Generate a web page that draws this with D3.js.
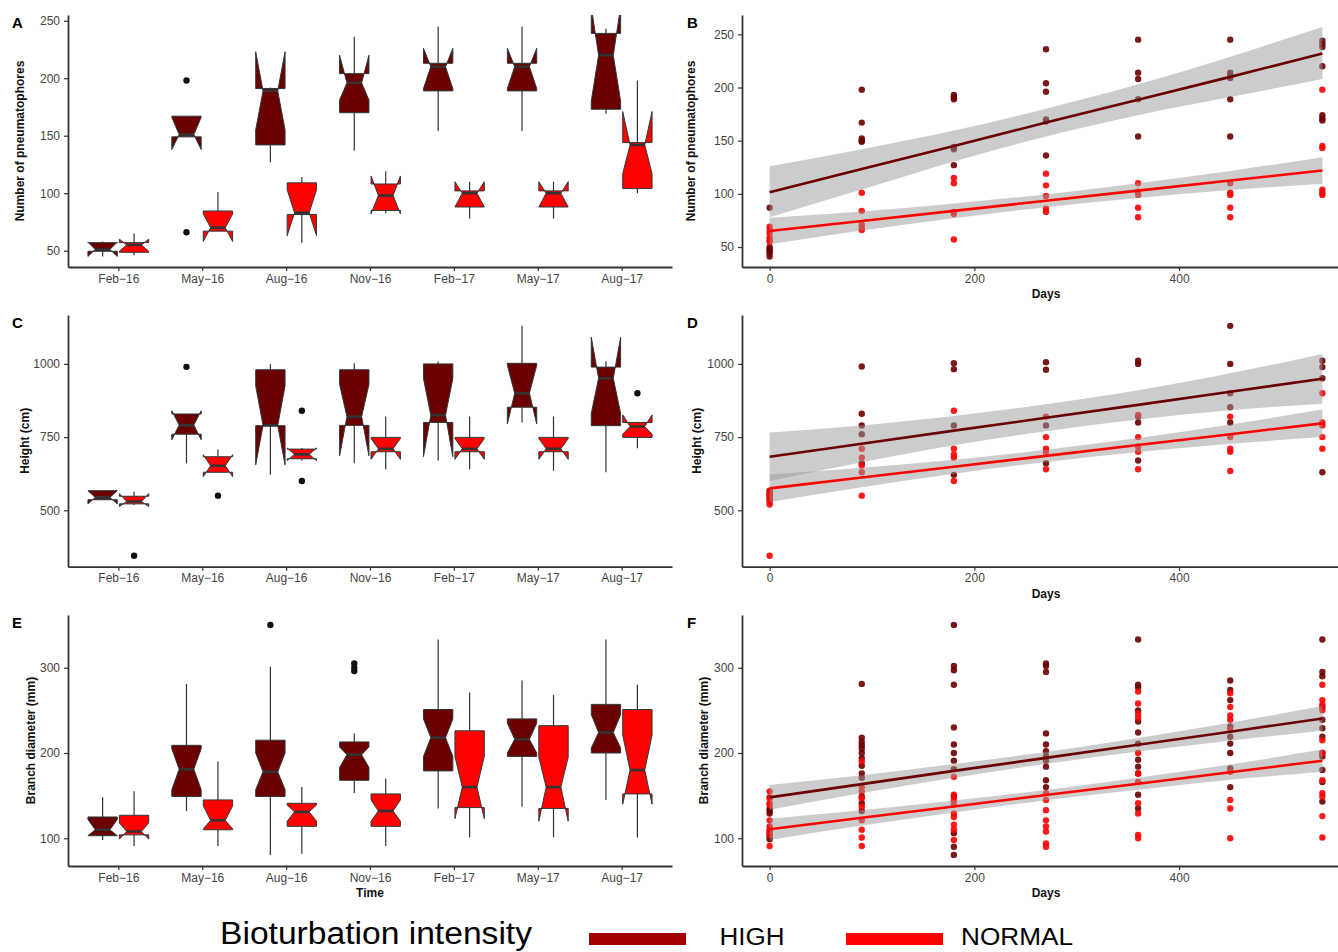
<!DOCTYPE html>
<html>
<head>
<meta charset="utf-8">
<script src="https://cdn.jsdelivr.net/npm/d3@7"></script>
<style>
  body { margin: 0; background: #fff; }
  svg { display: block; }
  text { font-family: "Liberation Sans", Arial, Helvetica, sans-serif; }
</style>
</head>
<body>
<svg id="fig" width="1338" height="952"></svg>
<script>
const months = ['Feb-16', 'May-16', 'Aug-16', 'Nov-16', 'Feb-17', 'May-17', 'Aug-17'];
const days = [0, 90, 180, 270, 360, 450, 540];
const groups = ['HIGH', 'NORMAL'];

// box stats per month: [lower whisker, q1, notch low, median, notch high, q3, upper whisker]
const pneuBoxHigh = [
  [45, 49.5, 45, 51, 57.5, 57, 58], [149, 149, 138, 151, 166, 167, 167],
  [127, 142, 155, 189, 223, 191, 192], [137, 170, 181, 196, 220, 204, 236],
  [154, 189, 191, 210, 226, 213, 245], [154, 189, 191, 210, 226, 213, 245],
  [169, 173, 180, 220, 262, 239, 243]
];
const pneuBoxNormal = [
  [46, 48.6, 49.5, 55, 60, 57, 65], [67, 67, 58, 70, 82, 84.5, 101],
  [57, 81.5, 63, 83, 103, 109, 114], [82.5, 85, 82, 98, 115, 108, 119],
  [78, 88, 88, 100, 110, 102, 110], [78, 88, 88, 100, 110, 102, 110],
  [100, 104, 117, 142, 171, 144, 198]
];
const pneuOutliers = [[1, 0, 198], [1, 0, 66]];

const heightBoxHigh = [
  [536, 536, 522, 544, 567, 567, 567], [661, 760, 741, 791, 840, 829, 829],
  [621, 789, 655, 790, 925, 980, 999], [661, 790, 686, 820, 930, 980, 1002],
  [670, 800, 683, 825, 950, 1000, 1008], [800, 852, 795, 900, 995, 1002, 1130],
  [630, 789, 831, 951, 1091, 989, 1008]
];
const heightBoxNormal = [
  [518, 522, 513, 530, 557, 548, 564], [630, 630, 615, 652, 690, 683, 708],
  [670, 676, 670, 691, 713, 709, 713], [640, 700, 674, 710, 745, 749, 820],
  [640, 700, 674, 710, 745, 749, 820], [635, 700, 674, 710, 745, 749, 820],
  [712, 749, 760, 786, 826, 800, 800]
];
const heightOutliers = [[0, 1, 345], [1, 0, 990], [1, 1, 550], [2, 1, 840], [2, 1, 600], [6, 1, 900]];

const branchBoxHigh = [
  [98, 103, 103, 110, 122, 125, 148], [132, 149, 157, 181, 205, 209, 281],
  [80.5, 149, 157, 178, 200, 215, 301], [153, 168, 183, 198, 207, 213, 223],
  [135, 179, 196, 218, 240, 251, 333], [137, 196, 200, 216, 235, 240, 285],
  [145, 200, 206, 224, 245, 257, 333]
];
const branchBoxNormal = [
  [91, 104, 99, 108, 118, 127, 155], [91, 110, 111, 121, 138, 145, 190],
  [82, 114, 120, 131, 139, 141, 160], [91, 114, 120, 132, 145, 152, 170],
  [101, 136, 123, 160, 196, 226, 271], [101, 135, 120, 160, 195, 232, 268],
  [101, 152, 140, 180, 221, 251, 280]
];
const branchOutliers = [[2, 0, 350], [3, 0, 305], [3, 0, 300], [3, 0, 296]];

// scatter values per sampling day
const pneuPtsHigh = [
  [87, 50, 48, 46, 44, 41], [198, 167, 152, 150, 149], [193, 191, 189, 144, 142, 127],
  [236, 204, 196, 170, 168, 136], [245, 214, 208, 189, 154], [245, 214, 211, 209, 189, 154],
  [244, 241, 238, 220, 174, 171, 169]
];
const pneuPtsNormal = [
  [69, 66, 63, 59, 57, 55], [101, 84, 71, 68, 66], [115, 110, 83, 81, 57],
  [119, 108, 98, 86, 83], [110, 102, 99, 87, 78], [110, 101, 99, 87, 78],
  [198, 145, 143, 104, 101, 99]
];
const pneuFitHigh = [101.5, 123.3, 145, 167, 188.5, 210, 232];
const pneuLoHigh = [78, 104, 130.5, 154, 174, 191, 208];
const pneuHiHigh = [126, 142, 159.5, 180, 203, 229, 257];
const pneuFitNormal = [65, 74.5, 84, 93.5, 103, 112.5, 122];
const pneuLoNormal = [52.5, 65.5, 77, 87.5, 96, 103.5, 109.5];
const pneuHiNormal = [77.5, 83.5, 91, 99.5, 110, 121.5, 134.5];

const heightPtsHigh = [
  [567, 555, 544, 536], [991, 830, 790, 760, 661], [1002, 982, 790, 621],
  [1006, 980, 790, 661], [1011, 1000, 820, 800, 670], [1130, 1000, 900, 852, 800],
  [1011, 989, 951, 630]
];
const heightPtsNormal = [
  [564, 555, 547, 530, 520, 345], [710, 680, 653, 630, 550], [840, 710, 691, 680, 600],
  [820, 750, 710, 700, 640], [826, 750, 718, 700, 640], [820, 750, 710, 700, 634],
  [900, 800, 790, 750, 710]
];
const heightFitHigh = [683, 727, 772, 816, 860, 905, 949];
const heightLoHigh = [600, 664, 722, 770, 810, 842, 864];
const heightHiHigh = [766, 790, 822, 862, 910, 968, 1034];
const heightFitNormal = [575, 612, 649, 686, 723, 760, 797];
const heightLoNormal = [528, 579, 625, 665, 699, 727, 750];
const heightHiNormal = [622, 645, 673, 707, 747, 793, 844];

const branchPtsHigh = [
  [148, 135, 132, 129, 110, 106, 102, 99],
  [281, 218, 213, 209, 205, 200, 194, 185, 176, 171, 149, 141, 132],
  [350, 302, 297, 280, 230, 210, 200, 191, 181, 149, 106, 90, 80.5],
  [305, 302, 295, 223, 210, 202, 196, 191, 184, 168, 160],
  [333, 280, 277, 250, 237, 224, 211, 192, 184, 176, 151, 135],
  [285, 274, 262, 231, 219, 211, 200, 182, 160],
  [333, 295, 290, 254, 239, 229, 219, 200, 196, 180, 166, 143]
];
const branchPtsNormal = [
  [155, 147, 141, 139, 121, 114, 108, 104, 91],
  [190, 160, 155, 147, 137, 121, 110, 101, 91],
  [172, 151, 145, 140, 129, 125, 116, 110, 98],
  [153, 145, 133, 121, 114, 108, 94, 90],
  [272, 258, 246, 241, 200, 176, 166, 141, 129, 104, 100],
  [270, 254, 244, 239, 227, 178, 145, 135, 100],
  [280, 262, 257, 250, 215, 200, 168, 153, 149, 126, 101]
];
const branchFitHigh = [148, 163.5, 179, 194.3, 209.7, 225, 240.5];
const branchLoHigh = [133.5, 153, 171, 187.3, 201.7, 214.5, 226];
const branchHiHigh = [162.5, 174, 187, 201.3, 217.7, 235.5, 255];
const branchFitNormal = [110.5, 124, 137.3, 150.7, 164, 177.5, 191];
const branchLoNormal = [98, 115, 130.3, 144.7, 157, 168.5, 178];
const branchHiNormal = [123, 133, 144.3, 156.7, 171, 186.5, 204];

const fills = { HIGH: '#6b0000', NORMAL: '#ff0000' };
const legendKeys = { HIGH: '#a50000', NORMAL: '#ff0000' };

const svg = d3.select('#fig');
const rows = [{ top: 15, bottom: 267 }, { top: 315, bottom: 566.7 }, { top: 615, bottom: 866 }];
const leftX = [68, 672];
const rightX = [742, 1350];

function styleAxis(a) {
  a.select('.domain').attr('stroke', '#333').attr('stroke-width', 1.8);
  a.selectAll('.tick line').attr('stroke', '#333').attr('stroke-width', 1.2);
  a.selectAll('.tick text').attr('fill', '#444').attr('font-size', 12);
}

function frame(p, x, y, yTicks, xAxis) {
  const r = p.row;
  svg.append('g')
      .attr('transform', `translate(${x.range()[0]},0)`)
      .call(d3.axisLeft(y).tickValues(yTicks).tickFormat(d3.format('d'))
          .tickSize(4).tickPadding(4).tickSizeOuter(0))
      .call(styleAxis);
  svg.append('g')
      .attr('transform', `translate(0,${r.bottom})`)
      .call(xAxis)
      .call(styleAxis);

  svg.append('text')
      .attr('x', p.letterX).attr('y', r.top + 13)
      .attr('font-size', 15).attr('font-weight', 'bold')
      .text(p.letter);

  svg.append('text')
      .attr('transform', `translate(${p.titleX},${(r.top + r.bottom) / 2}) rotate(-90)`)
      .attr('text-anchor', 'middle')
      .attr('font-size', 12).attr('font-weight', 'bold').attr('fill', '#111')
      .text(p.yTitle);

  if (p.xTitle) {
    svg.append('text')
        .attr('x', (x.range()[0] + x.range()[1]) / 2).attr('y', r.bottom + 31)
        .attr('text-anchor', 'middle')
        .attr('font-size', 12).attr('font-weight', 'bold').attr('fill', '#111')
        .text(p.xTitle);
  }
}

function clipFor(id, x0, x1, r) {
  svg.append('clipPath').attr('id', id)
    .append('rect')
      .attr('x', x0).attr('y', r.top)
      .attr('width', x1 - x0).attr('height', r.bottom - r.top);
  return svg.append('g').attr('clip-path', `url(#${id})`);
}

function boxPanel(p) {
  const x = d3.scalePoint().domain(months).range(leftX).padding(0.6);
  const y = d3.scaleLinear().domain(p.yDomain).range([p.row.bottom, p.row.top]);
  const step = x.step();
  const bw = step * 0.35;
  const off = step * 0.1875;
  const plot = clipFor('clip-' + p.letter, leftX[0], leftX[1], p.row);
  const line = d3.line().x(d => d[0]).y(d => y(d[1]));

  groups.forEach((grp, gi) => {
    p.boxes[gi].forEach((s, i) => {
      const cx = x(months[i]) + (gi === 0 ? -off : off);
      const xmin = cx - bw / 2, xmax = cx + bw / 2, ind = bw * 0.25;

      plot.append('line')
          .attr('x1', cx).attr('x2', cx)
          .attr('y1', y(s[5])).attr('y2', y(s[6]))
          .attr('stroke', '#333').attr('stroke-width', 1.2);
      plot.append('line')
          .attr('x1', cx).attr('x2', cx)
          .attr('y1', y(s[1])).attr('y2', y(s[0]))
          .attr('stroke', '#333').attr('stroke-width', 1.2);

      const poly = [
        [xmin, s[5]], [xmin, s[4]], [xmin + ind, s[3]], [xmin, s[2]], [xmin, s[1]],
        [xmax, s[1]], [xmax, s[2]], [xmax - ind, s[3]], [xmax, s[4]], [xmax, s[5]]
      ];
      plot.append('path')
          .attr('d', line(poly) + 'Z')
          .attr('fill', fills[grp])
          .attr('stroke', '#2d3a3a').attr('stroke-width', 1)
          .attr('stroke-linejoin', 'miter');

      plot.append('line')
          .attr('x1', xmin + ind).attr('x2', xmax - ind)
          .attr('y1', y(s[3])).attr('y2', y(s[3]))
          .attr('stroke', '#333').attr('stroke-width', 2.6);
    });
  });

  plot.selectAll('circle.out')
    .data(p.outliers)
    .join('circle')
      .attr('cx', d => x(months[d[0]]) + (d[1] === 0 ? -off : off))
      .attr('cy', d => y(d[2]))
      .attr('r', 3.2)
      .attr('fill', '#111');

  const xAxis = d3.axisBottom(x).tickSize(4).tickPadding(3).tickSizeOuter(0)
      .tickFormat(d => d.replace('-', '\u2212'));
  frame(p, x, y, p.yTicks, xAxis);
}

function scatterPanel(p) {
  const x = d3.scaleLinear().domain([-27, 567]).range(rightX);
  const y = d3.scaleLinear().domain(p.yDomain).range([p.row.bottom, p.row.top]);
  const plot = clipFor('clip-' + p.letter, rightX[0], 1338, p.row);

  groups.forEach((grp, gi) => {
    p.pts[gi].forEach((vals, i) => {
      vals.forEach(v => {
        plot.append('circle')
            .attr('cx', x(days[i])).attr('cy', y(v))
            .attr('r', 3.2)
            .attr('fill', fills[grp])
            .attr('fill-opacity', 0.9);
      });
    });
  });

  groups.forEach((grp, gi) => {
    const f = p.fits[gi];
    const area = d3.area()
        .x((d, i) => x(days[i]))
        .y0((d, i) => y(f.lo[i]))
        .y1((d, i) => y(f.hi[i]))
        .curve(d3.curveMonotoneX);
    plot.append('path')
        .attr('d', area(days))
        .attr('fill', '#999')
        .attr('fill-opacity', 0.5);
    const ln = d3.line()
        .x((d, i) => x(days[i]))
        .y(d => y(d));
    plot.append('path')
        .attr('d', ln(f.fit))
        .attr('fill', 'none')
        .attr('stroke', fills[grp])
        .attr('stroke-width', 2.6);
  });

  const xAxis = d3.axisBottom(x).tickValues([0, 200, 400]).tickSize(4).tickPadding(3).tickSizeOuter(0);
  frame(p, x, y, p.yTicks, xAxis);
}

boxPanel({
  letter: 'A', letterX: 12, titleX: 24, row: rows[0], yDomain: [35.8, 255],
  yTicks: [50, 100, 150, 200, 250], yTitle: 'Number of pneumatophores',
  boxes: [pneuBoxHigh, pneuBoxNormal], outliers: pneuOutliers
});
scatterPanel({
  letter: 'B', letterX: 687, titleX: 695, row: rows[0], yDomain: [31.2, 268.2],
  yTicks: [50, 100, 150, 200, 250], yTitle: 'Number of pneumatophores', xTitle: 'Days',
  pts: [pneuPtsHigh, pneuPtsNormal],
  fits: [{ fit: pneuFitHigh, lo: pneuLoHigh, hi: pneuHiHigh },
         { fit: pneuFitNormal, lo: pneuLoNormal, hi: pneuHiNormal }]
});
boxPanel({
  letter: 'C', letterX: 12, titleX: 28.5, row: rows[1], yDomain: [307.4, 1167],
  yTicks: [500, 750, 1000], yTitle: 'Height (cm)',
  boxes: [heightBoxHigh, heightBoxNormal], outliers: heightOutliers
});
scatterPanel({
  letter: 'D', letterX: 687, titleX: 701, row: rows[1], yDomain: [307.4, 1167],
  yTicks: [500, 750, 1000], yTitle: 'Height (cm)', xTitle: 'Days',
  pts: [heightPtsHigh, heightPtsNormal],
  fits: [{ fit: heightFitHigh, lo: heightLoHigh, hi: heightHiHigh },
         { fit: heightFitNormal, lo: heightLoNormal, hi: heightHiNormal }]
});
boxPanel({
  letter: 'E', letterX: 12, titleX: 35, row: rows[2], yDomain: [67.5, 361.8],
  yTicks: [100, 200, 300], yTitle: 'Branch diameter (mm)', xTitle: 'Time',
  boxes: [branchBoxHigh, branchBoxNormal], outliers: branchOutliers
});
scatterPanel({
  letter: 'F', letterX: 687, titleX: 708, row: rows[2], yDomain: [67.5, 361.8],
  yTicks: [100, 200, 300], yTitle: 'Branch diameter (mm)', xTitle: 'Days',
  pts: [branchPtsHigh, branchPtsNormal],
  fits: [{ fit: branchFitHigh, lo: branchLoHigh, hi: branchHiHigh },
         { fit: branchFitNormal, lo: branchLoNormal, hi: branchHiNormal }]
});

// legend
const legend = svg.append('g');
legend.append('text')
    .attr('x', 220).attr('y', 944)
    .attr('font-size', 31).attr('fill', '#000')
    .attr('textLength', 312).attr('lengthAdjust', 'spacingAndGlyphs')
    .text('Bioturbation intensity');
const keyX = { HIGH: 589, NORMAL: 846 };
const labelX = { HIGH: 719.5, NORMAL: 961 };
const labelW = { HIGH: 65, NORMAL: 112 };
groups.forEach(grp => {
  legend.append('rect')
      .attr('x', keyX[grp]).attr('y', 933)
      .attr('width', 97).attr('height', 12)
      .attr('fill', legendKeys[grp]);
  legend.append('text')
      .attr('x', labelX[grp]).attr('y', 945)
      .attr('font-size', 23).attr('fill', '#000')
      .attr('textLength', labelW[grp]).attr('lengthAdjust', 'spacingAndGlyphs')
      .text(grp);
});
</script>
</body>
</html>
